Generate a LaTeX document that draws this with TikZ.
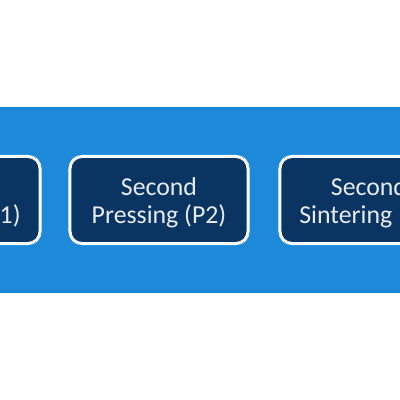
\documentclass[tikz,border=0pt]{standalone}
\usepackage{fontspec}
\setmainfont{Carlito}
\definecolor{band}{RGB}{30,137,216}
\definecolor{navy}{RGB}{10,52,98}
\definecolor{txt}{RGB}{232,236,242}
\tikzset{
  stepbox/.style={draw=white, line width=3bp, fill=navy, rounded corners=12bp,
    minimum width=178bp, minimum height=87bp, inner sep=0pt},
  steptext/.style={text=txt, align=center, inner sep=0pt,
    font=\fontsize{25.8bp}{28.5bp}\selectfont}
}
\begin{document}
\begin{tikzpicture}[x=1bp,y=1bp]
\useasboundingbox (0,0) rectangle (400,400);
\fill[white] (0,0) rectangle (400,400);
\begin{scope}
\clip (0,0) rectangle (400,400);
\fill[band] (-10,107) rectangle (410,293);
\node[stepbox] (s1) at (-49,200) {};
\node[stepbox] (p2) at (159,200) {};
\node[stepbox] (s2) at (369,200) {};
\node[steptext] (s1t) at (-49,197) {First\\Sintering (S1)};
\node[steptext] (p2t) at (159,197) {Second\\Pressing (P2)};
\node[steptext] (s2t) at (369,197) {Second\\Sintering (S2)};
\end{scope}
\end{tikzpicture}
\end{document}
